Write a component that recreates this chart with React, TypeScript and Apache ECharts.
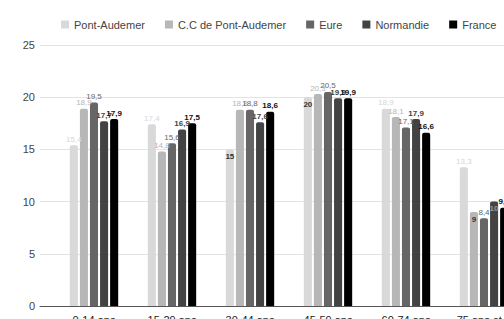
import React, { useEffect, useRef } from "react";
import * as echarts from "echarts";

const categories = ["0-14 ans", "15-29 ans", "30-44 ans", "45-59 ans", "60-74 ans", "75 ans et +"];
const seriesNames = ["Pont-Audemer", "C.C de Pont-Audemer", "Eure", "Normandie", "France"];
const pontAudemer = [15.4, 17.4, 15, 20, 18.9, 13.3];
const ccPontAudemer = [18.9, 14.8, 18.8, 20.3, 18.1, 9];
const eure = [19.5, 15.6, 18.8, 20.5, 17.1, 8.4];
const normandie = [17.7, 16.9, 17.6, 19.9, 17.9, 10];
const france = [17.9, 17.5, 18.6, 19.9, 16.6, 9.4];
const yTicks = [0, 5, 10, 15, 20, 25];

const seriesValues = [pontAudemer, ccPontAudemer, eure, normandie, france];
const barColors = ["#d9d9d9", "#b7b7b7", "#666666", "#434343", "#000000"];
const labelColors = ["#d6d6d6", "#b5b5b5", "#666666", "#444444", "#111111"];
// labels drawn inside the bar top: [series, category, color]
const insideLabels: [number, number, string][] = [
  [0, 2, "#333"],
  [0, 3, "#333"],
  [1, 5, "#333"],
  [3, 5, "#999"],
];

const FONT = 'Arial, "Liberation Sans", sans-serif';

export default function App() {
  const ref = useRef<HTMLDivElement>(null);
  useEffect(() => {
    if (!ref.current) return;
    const chart = echarts.init(ref.current, undefined, { renderer: "svg" });
    const fmt = (v: number) => String(v).replace(".", ",");
    const series: any[] = seriesNames.map((name, si) => ({
      name,
      type: "bar",
      xAxisIndex: 0,
      yAxisIndex: 0,
      barCategoryGap: "38%",
      barGap: "25%",
      itemStyle: { color: barColors[si], borderRadius: [2, 2, 0, 0] },
      label: {
        show: true,
        position: "top",
        distance: 2,
        fontSize: 8,
        fontFamily: FONT,
        color: labelColors[si],
        fontWeight: si >= 3 ? "bold" : "normal",
        formatter: (p: any) => fmt(p.value),
      },
      data: seriesValues[si].map((v, ci) => {
        const ins = insideLabels.find((x) => x[0] === si && x[1] === ci);
        if (ins) {
          return {
            value: v,
            label: { position: "insideTop", distance: 3, color: ins[2], fontWeight: "bold" },
          };
        }
        return v;
      }),
    }));
    chart.setOption({
      animation: false,
      textStyle: { fontFamily: FONT },
      legend: {
        left: 56,
        top: 14,
        icon: "rect",
        itemWidth: 8,
        itemHeight: 8,
        itemGap: 20,
        textStyle: { fontSize: 11, color: "#444", fontFamily: FONT },
        data: seriesNames,
      },
      grid: [
        { left: 55, top: 45, width: 468, bottom: 34, containLabel: false },
        { left: 40, top: 45, width: 15, bottom: 34, containLabel: false },
      ],
      xAxis: [
        {
          type: "category",
          gridIndex: 0,
          data: categories,
          axisLine: { lineStyle: { color: "#555", width: 1 } },
          axisTick: { show: false },
          axisLabel: { fontSize: 11, color: "#222", margin: 8, fontFamily: FONT },
        },
        {
          type: "value",
          gridIndex: 1,
          min: 0,
          max: 1,
          axisLine: { show: true, lineStyle: { color: "#555", width: 1 } },
          axisTick: { show: false },
          axisLabel: { show: false },
          splitLine: { show: false },
        },
      ],
      yAxis: [
        {
          type: "value",
          gridIndex: 0,
          min: yTicks[0],
          max: yTicks[yTicks.length - 1],
          interval: 5,
          axisLine: { show: false },
          axisTick: { show: false },
          axisLabel: { show: false },
          splitLine: { lineStyle: { color: "#e3e3e3" } },
        },
        {
          type: "value",
          gridIndex: 1,
          min: yTicks[0],
          max: yTicks[yTicks.length - 1],
          interval: 5,
          axisLine: { show: false },
          axisTick: { show: false },
          axisLabel: { fontSize: 11, color: "#444", margin: 5, fontFamily: FONT },
          splitLine: { lineStyle: { color: "#e3e3e3" } },
        },
      ],
      series,
    });
    return () => chart.dispose();
  }, []);
  return (
    <div
      style={{
        position: "fixed",
        left: 0,
        top: 0,
        width: 504,
        height: 319,
        overflow: "hidden",
        background: "#fff",
      }}
    >
      <div ref={ref} style={{ width: 570, height: 340 }} />
    </div>
  );
}
